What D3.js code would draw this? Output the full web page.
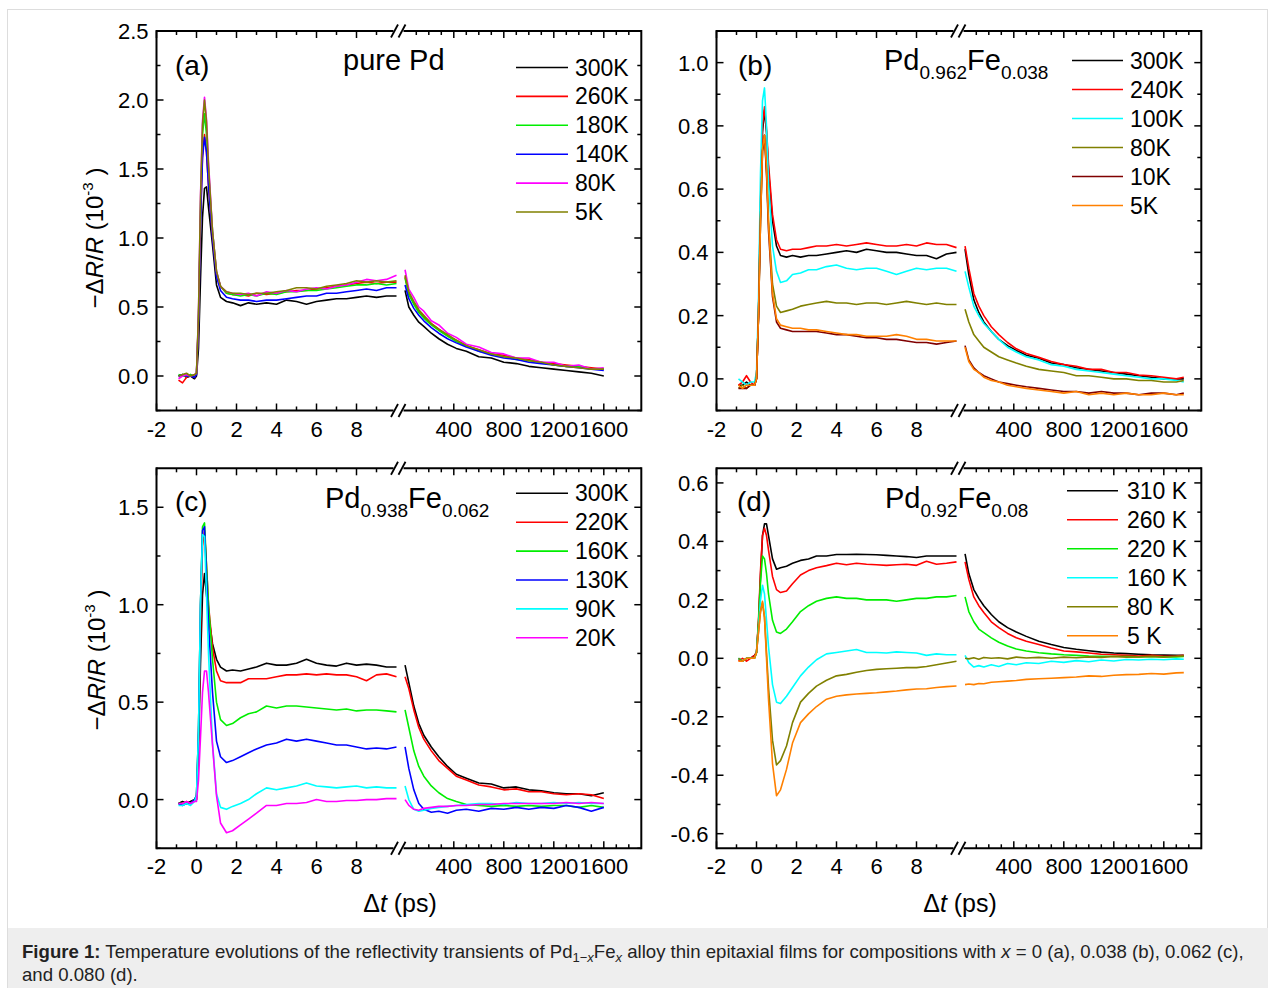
<!DOCTYPE html>
<html><head><meta charset="utf-8">
<script src="https://cdn.jsdelivr.net/npm/d3@7"></script>
<style>
body{margin:0;background:#fff;}
svg{display:block;font-family:"Liberation Sans",Arial,sans-serif;}
</style></head><body>
<svg id="fig" width="1268" height="988"></svg>
<script>
// ---------------- shared time grids (ps) ----------------
const tL = [-0.9,-0.7,-0.5,-0.3,-0.1,0,0.1,0.2,0.3,0.4,0.5,0.6,0.8,1.0,1.2,1.5,1.8,2.2,2.6,3.0,3.5,4.0,4.5,5.0,5.5,6.0,6.5,7.0,7.5,8.0,8.5,9.0,9.5,10];
const tR = [10,40,80,120,160,220,280,350,420,500,600,700,800,900,1000,1100,1200,1300,1400,1500,1600,1700,1760];

// ---------------- tick labels ----------------
const xTickLabelsL = [-2,0,2,4,6,8];
const xTickLabelsR = [400,800,1200,1600];
const yTicksA = [0,0.5,1.0,1.5,2.0,2.5];
const yTicksB = [0,0.2,0.4,0.6,0.8,1.0];
const yTicksC = [0,0.5,1.0,1.5];
const yTicksD = [-0.6,-0.4,-0.2,0,0.2,0.4,0.6];

// ---------------- panel (a) pure Pd ----------------
const aNames  = ["300K","260K","180K","140K","80K","5K"];
const aColors = ["#000000","#ff0000","#00ee00","#0000ff","#ff00ff","#808000"];
const a300L = [0.0,0.01,-0.01,0.0,-0.02,0.0,0.2,0.7,1.15,1.36,1.37,1.22,0.95,0.66,0.57,0.54,0.53,0.51,0.53,0.52,0.53,0.52,0.55,0.54,0.52,0.54,0.55,0.56,0.56,0.57,0.58,0.57,0.58,0.58];
const a260L = [-0.03,-0.05,-0.01,0.01,-0.01,0.02,0.4,1.15,1.6,1.75,1.62,1.38,1.02,0.74,0.65,0.6,0.59,0.59,0.58,0.6,0.59,0.6,0.61,0.62,0.62,0.63,0.64,0.65,0.66,0.67,0.68,0.67,0.68,0.68];
const a180L = [0.01,0.0,0.0,0.01,0.0,0.02,0.42,1.2,1.75,1.9,1.75,1.48,1.05,0.75,0.65,0.6,0.59,0.58,0.59,0.58,0.6,0.59,0.61,0.61,0.62,0.62,0.63,0.64,0.65,0.66,0.66,0.67,0.66,0.67];
const a140L = [0.0,0.01,0.0,0.0,-0.01,0.01,0.38,1.1,1.58,1.73,1.62,1.38,1.0,0.72,0.62,0.57,0.56,0.55,0.55,0.54,0.55,0.55,0.56,0.57,0.58,0.58,0.6,0.6,0.61,0.62,0.63,0.62,0.64,0.64];
const a80L  = [-0.02,0.0,0.01,0.0,0.01,0.02,0.45,1.3,1.85,2.02,1.86,1.55,1.05,0.76,0.65,0.61,0.6,0.59,0.6,0.58,0.61,0.6,0.62,0.61,0.63,0.64,0.63,0.65,0.66,0.68,0.7,0.69,0.7,0.73];
const a5L   = [0.0,0.01,0.02,0.0,0.01,0.02,0.45,1.28,1.82,2.0,1.84,1.52,1.05,0.76,0.65,0.61,0.6,0.6,0.59,0.6,0.6,0.61,0.62,0.64,0.64,0.63,0.65,0.66,0.67,0.69,0.68,0.69,0.68,0.69];
const a300R = [0.62,0.5,0.44,0.39,0.36,0.31,0.27,0.23,0.2,0.18,0.14,0.13,0.1,0.09,0.07,0.06,0.05,0.04,0.03,0.02,0.0];
const a260R = [0.72,0.6,0.53,0.47,0.43,0.38,0.34,0.29,0.26,0.22,0.19,0.16,0.15,0.13,0.12,0.1,0.09,0.08,0.07,0.06,0.05];
const a180R = [0.71,0.59,0.52,0.46,0.42,0.37,0.33,0.29,0.25,0.22,0.18,0.16,0.14,0.12,0.11,0.1,0.08,0.07,0.07,0.05,0.05];
const a140R = [0.66,0.56,0.49,0.44,0.4,0.35,0.31,0.27,0.24,0.21,0.18,0.15,0.13,0.12,0.1,0.09,0.08,0.07,0.06,0.05,0.04];
const a80R  = [0.77,0.63,0.57,0.5,0.47,0.4,0.37,0.31,0.28,0.23,0.21,0.17,0.16,0.13,0.13,0.1,0.1,0.07,0.08,0.05,0.06];
const a5R   = [0.73,0.61,0.54,0.48,0.44,0.38,0.34,0.3,0.26,0.22,0.19,0.16,0.14,0.13,0.11,0.1,0.08,0.07,0.06,0.05,0.05];

// ---------------- panel (b) Pd0.962Fe0.038 ----------------
const bNames  = ["300K","240K","100K","80K","10K","5K"];
const bColors = ["#000000","#ff0000","#00ffff","#808000","#800000","#ff8000"];
const b300L = [-0.02,-0.02,-0.01,-0.02,-0.02,0.0,0.2,0.55,0.78,0.85,0.78,0.66,0.5,0.42,0.39,0.385,0.39,0.385,0.39,0.39,0.395,0.4,0.405,0.4,0.41,0.405,0.4,0.4,0.395,0.39,0.39,0.38,0.395,0.4];
const b240L = [-0.02,-0.01,0.01,-0.01,-0.02,0.0,0.2,0.56,0.8,0.86,0.79,0.68,0.52,0.44,0.41,0.405,0.41,0.41,0.415,0.42,0.42,0.425,0.42,0.425,0.43,0.425,0.42,0.42,0.425,0.42,0.43,0.425,0.425,0.415];
const b100L = [0.0,-0.01,-0.02,-0.01,-0.01,0.02,0.25,0.65,0.88,0.92,0.8,0.62,0.42,0.34,0.305,0.31,0.33,0.335,0.345,0.345,0.355,0.36,0.35,0.345,0.35,0.35,0.34,0.33,0.34,0.35,0.345,0.35,0.35,0.34];
const b80L  = [-0.03,-0.02,-0.03,-0.02,-0.02,0.0,0.2,0.5,0.72,0.77,0.66,0.5,0.3,0.23,0.21,0.215,0.22,0.23,0.235,0.24,0.245,0.24,0.24,0.235,0.24,0.24,0.235,0.24,0.245,0.24,0.235,0.24,0.235,0.235];
const b10L  = [-0.03,-0.03,-0.03,-0.02,-0.02,0.0,0.2,0.5,0.72,0.77,0.65,0.47,0.26,0.18,0.16,0.155,0.15,0.15,0.15,0.15,0.145,0.14,0.14,0.135,0.13,0.13,0.125,0.125,0.12,0.115,0.115,0.11,0.115,0.12];
const b5L   = [-0.02,-0.03,-0.02,-0.02,-0.02,0.0,0.2,0.5,0.73,0.77,0.67,0.49,0.27,0.19,0.17,0.165,0.16,0.16,0.155,0.155,0.15,0.145,0.14,0.14,0.135,0.135,0.135,0.14,0.135,0.125,0.125,0.12,0.12,0.12];
const b300R = [0.41,0.33,0.25,0.21,0.18,0.15,0.125,0.105,0.09,0.075,0.065,0.05,0.045,0.035,0.03,0.025,0.02,0.015,0.01,0.005,0.0,0.0,0.0];
const b240R = [0.42,0.35,0.27,0.23,0.2,0.165,0.14,0.115,0.095,0.08,0.068,0.055,0.045,0.04,0.03,0.03,0.02,0.02,0.012,0.01,0.005,0.0,0.005];
const b100R = [0.34,0.29,0.23,0.2,0.175,0.15,0.125,0.1,0.085,0.07,0.06,0.045,0.04,0.03,0.025,0.02,0.015,0.01,0.005,0.0,0.0,-0.005,-0.01];
const b80R  = [0.22,0.18,0.14,0.12,0.1,0.085,0.07,0.06,0.05,0.04,0.03,0.025,0.02,0.01,0.01,0.005,0.0,0.0,-0.005,-0.005,-0.01,-0.01,-0.005];
const b10R  = [0.105,0.06,0.035,0.02,0.01,0.0,-0.01,-0.015,-0.02,-0.025,-0.03,-0.035,-0.04,-0.04,-0.045,-0.04,-0.045,-0.045,-0.05,-0.045,-0.045,-0.05,-0.045];
const b5R   = [0.1,0.055,0.03,0.02,0.005,-0.005,-0.01,-0.02,-0.025,-0.03,-0.035,-0.04,-0.045,-0.04,-0.05,-0.045,-0.05,-0.045,-0.05,-0.05,-0.045,-0.05,-0.05];

// ---------------- panel (c) Pd0.938Fe0.062 ----------------
const cNames  = ["300K","220K","160K","130K","90K","20K"];
const cColors = ["#000000","#ff0000","#00ee00","#0000ff","#00ffff","#ff00ff"];
const c300L = [-0.02,-0.01,-0.02,-0.01,0.0,0.0,0.25,0.7,1.05,1.16,1.05,0.95,0.8,0.72,0.68,0.66,0.665,0.66,0.67,0.68,0.7,0.69,0.69,0.7,0.72,0.7,0.69,0.685,0.7,0.69,0.695,0.69,0.68,0.68];
const c220L = [-0.02,-0.02,-0.01,-0.02,0.0,0.0,0.3,0.85,1.3,1.38,1.2,1.0,0.78,0.66,0.61,0.6,0.6,0.6,0.62,0.62,0.62,0.63,0.64,0.64,0.645,0.64,0.645,0.64,0.64,0.63,0.61,0.64,0.645,0.63];
const c160L = [-0.02,-0.02,-0.02,-0.02,0.0,0.02,0.35,1.0,1.4,1.42,1.2,1.0,0.72,0.5,0.41,0.38,0.39,0.42,0.44,0.45,0.48,0.47,0.48,0.48,0.475,0.47,0.465,0.46,0.465,0.455,0.46,0.46,0.455,0.45];
const c130L = [-0.02,-0.03,-0.02,-0.02,0.0,0.02,0.35,1.0,1.38,1.4,1.15,0.9,0.55,0.3,0.22,0.19,0.2,0.22,0.24,0.26,0.28,0.29,0.31,0.3,0.31,0.3,0.29,0.28,0.28,0.27,0.26,0.265,0.26,0.27];
const c90L  = [-0.03,-0.03,-0.02,-0.03,-0.01,0.02,0.35,1.0,1.36,1.35,1.05,0.75,0.29,0.03,-0.04,-0.05,-0.035,-0.02,0.0,0.03,0.06,0.05,0.06,0.07,0.085,0.07,0.065,0.06,0.065,0.07,0.06,0.065,0.06,0.06];
const c20L  = [-0.02,-0.02,-0.01,-0.02,-0.01,-0.01,0.1,0.32,0.55,0.66,0.66,0.55,0.28,0.02,-0.12,-0.17,-0.16,-0.13,-0.1,-0.07,-0.03,-0.03,-0.02,-0.02,-0.015,0.0,-0.01,-0.01,-0.005,-0.005,0.0,0.0,0.005,0.005];
const c300R = [0.69,0.6,0.48,0.39,0.33,0.27,0.22,0.17,0.13,0.11,0.085,0.08,0.06,0.065,0.05,0.045,0.035,0.03,0.03,0.02,0.035];
const c220R = [0.63,0.57,0.46,0.37,0.31,0.25,0.2,0.16,0.12,0.1,0.075,0.065,0.05,0.055,0.04,0.04,0.03,0.025,0.03,0.025,0.005];
const c160R = [0.46,0.37,0.25,0.17,0.12,0.07,0.035,0.005,-0.01,-0.025,-0.03,-0.035,-0.03,-0.035,-0.03,-0.035,-0.03,-0.03,-0.04,-0.03,-0.04];
const c130R = [0.27,0.16,0.05,-0.02,-0.05,-0.065,-0.06,-0.07,-0.055,-0.05,-0.06,-0.045,-0.05,-0.04,-0.05,-0.04,-0.045,-0.03,-0.04,-0.06,-0.04];
const c90R  = [0.07,0.0,-0.05,-0.06,-0.055,-0.045,-0.04,-0.035,-0.03,-0.025,-0.02,-0.02,-0.025,-0.015,-0.02,-0.02,-0.015,-0.02,-0.015,-0.02,-0.02];
const c20R  = [0.0,-0.03,-0.05,-0.055,-0.045,-0.04,-0.035,-0.035,-0.03,-0.03,-0.025,-0.025,-0.02,-0.02,-0.02,-0.02,-0.02,-0.015,-0.02,-0.015,-0.02];

// ---------------- panel (d) Pd0.92Fe0.08 ----------------
const dNames  = ["310 K","260 K","220 K","160 K","80 K","5 K"];
const dColors = ["#000000","#ff0000","#00ee00","#00ffff","#808000","#ff8000"];
const d310L = [0.0,-0.01,0.0,0.0,0.01,0.02,0.12,0.28,0.42,0.46,0.46,0.42,0.34,0.305,0.31,0.315,0.325,0.335,0.34,0.35,0.35,0.355,0.355,0.356,0.355,0.354,0.352,0.35,0.348,0.345,0.35,0.35,0.35,0.35];
const d260L = [-0.01,0.0,-0.01,0.0,0.01,0.02,0.13,0.3,0.42,0.445,0.42,0.37,0.28,0.235,0.225,0.23,0.255,0.285,0.3,0.31,0.317,0.325,0.32,0.325,0.322,0.32,0.318,0.32,0.322,0.318,0.332,0.322,0.325,0.33];
const d220L = [0.0,-0.01,0.0,0.0,0.0,0.02,0.12,0.26,0.35,0.34,0.29,0.22,0.13,0.09,0.085,0.1,0.125,0.16,0.18,0.195,0.205,0.21,0.205,0.205,0.2,0.2,0.2,0.195,0.2,0.205,0.205,0.21,0.21,0.215];
const d160L = [0.0,-0.01,0.0,0.0,0.0,0.02,0.1,0.2,0.25,0.22,0.13,0.04,-0.09,-0.15,-0.155,-0.13,-0.1,-0.06,-0.03,-0.005,0.015,0.02,0.025,0.03,0.02,0.02,0.018,0.022,0.02,0.018,0.01,0.015,0.012,0.012];
const d80L  = [0.0,-0.01,0.0,0.0,0.0,0.02,0.09,0.16,0.19,0.14,0.02,-0.1,-0.28,-0.365,-0.35,-0.3,-0.22,-0.15,-0.12,-0.095,-0.075,-0.06,-0.055,-0.048,-0.042,-0.038,-0.036,-0.034,-0.032,-0.032,-0.028,-0.022,-0.016,-0.01];
const d5L   = [-0.01,-0.01,0.0,0.0,0.0,0.02,0.09,0.16,0.195,0.14,0.0,-0.14,-0.36,-0.47,-0.45,-0.38,-0.29,-0.22,-0.19,-0.165,-0.14,-0.13,-0.125,-0.122,-0.12,-0.118,-0.115,-0.112,-0.108,-0.105,-0.104,-0.1,-0.097,-0.095];
const d310R = [0.357,0.29,0.235,0.205,0.18,0.15,0.125,0.105,0.09,0.075,0.058,0.047,0.037,0.031,0.026,0.021,0.018,0.016,0.014,0.012,0.011,0.01,0.01];
const d260R = [0.33,0.27,0.21,0.18,0.157,0.125,0.105,0.085,0.07,0.058,0.047,0.035,0.025,0.022,0.018,0.014,0.012,0.01,0.008,0.01,0.007,0.008,0.01];
const d220R = [0.21,0.16,0.125,0.1,0.088,0.07,0.055,0.042,0.032,0.025,0.019,0.015,0.012,0.01,0.008,0.007,0.006,0.006,0.005,0.006,0.005,0.005,0.006];
const d160R = [0.01,-0.015,-0.03,-0.025,-0.03,-0.022,-0.028,-0.018,-0.022,-0.015,-0.018,-0.01,-0.014,-0.008,-0.012,-0.006,-0.009,-0.004,-0.006,-0.003,-0.005,-0.002,-0.003];
const d80R  = [0.0,-0.002,0.002,-0.003,0.003,0.0,0.002,-0.002,0.004,0.001,0.003,0.0,0.004,0.002,0.005,0.003,0.006,0.004,0.005,0.006,0.004,0.007,0.008];
const d5R   = [-0.09,-0.088,-0.09,-0.086,-0.087,-0.082,-0.08,-0.078,-0.076,-0.072,-0.07,-0.068,-0.066,-0.064,-0.06,-0.062,-0.058,-0.056,-0.055,-0.052,-0.054,-0.05,-0.049];

// ---------------- drawing ----------------
const svg = d3.select("#fig");
const FONT = "'Liberation Sans', Arial, sans-serif";

// outer frame and caption band
svg.append("rect").attr("x",7.5).attr("y",9.5).attr("width",1260).attr("height",978)
  .attr("fill","none").attr("stroke","#dddddd");
svg.append("rect").attr("x",8).attr("y",928).attr("width",1260).attr("height",60).attr("fill","#eeeeee");

function drawPanel(p){
  const g = svg.append("g");
  const xL = d3.scaleLinear([-2,10],[p.L, p.L+240]);
  const xR = d3.scaleLinear([0,1900],[p.L+247.3, p.L+484.8]);
  const y  = d3.scaleLinear(p.yDom,[p.B, p.T]);
  const R = xR(1900), brk = xL(10);
  const ln = (x1,y1,x2,y2,w=2)=>g.append("line").attr("x1",x1).attr("y1",y1).attr("x2",x2).attr("y2",y2)
      .attr("stroke","#000").attr("stroke-width",w);

  // data lines
  const lineL = d3.line().x(d=>xL(d[0])).y(d=>y(d[1]));
  const lineR = d3.line().x(d=>xR(d[0])).y(d=>y(d[1]));
  p.series.forEach((s,i)=>{
    g.append("path").attr("d",lineL(d3.zip(tL,s.left))).attr("fill","none")
      .attr("stroke",p.colors[i]).attr("stroke-width",1.6).attr("stroke-linejoin","round");
    g.append("path").attr("d",lineR(d3.zip(tR,s.right))).attr("fill","none")
      .attr("stroke",p.colors[i]).attr("stroke-width",1.6).attr("stroke-linejoin","round");
  });

  // frame
  ln(p.L,p.T-1,p.L,p.B+1); ln(R,p.T-1,R,p.B+1);
  [p.T,p.B].forEach(yy=>{
    ln(p.L,yy,brk-3,yy); ln(brk+7,yy,R,yy);
    [brk-2, brk+5.5].forEach(cx=>ln(cx-3.5,yy+6.5,cx+3.5,yy-6.5,1.8));
  });

  // x ticks (inward, top & bottom)
  const majL = xTickLabelsL, minL = d3.range(-1,10,1).filter(v=>!majL.includes(v));
  const majR = xTickLabelsR, minR = d3.range(100,1900,100).filter(v=>!majR.includes(v));
  const xt = (x,len)=>{ ln(x,p.B,x,p.B-len,1.5); ln(x,p.T,x,p.T+len,1.5); };
  majL.forEach(v=>xt(xL(v),7)); minL.forEach(v=>xt(xL(v),4));
  majR.forEach(v=>xt(xR(v),7)); minR.forEach(v=>xt(xR(v),4));
  // y ticks (inward, left & right)
  const yt = (v,len)=>{ const yy=y(v); ln(p.L,yy,p.L+len,yy,1.5); ln(R,yy,R-len,yy,1.5); };
  p.yMajor.forEach(v=>yt(v,7));
  p.yMinor.forEach(v=>yt(v,4));

  // tick labels
  const tl = (x,yy,txt,anchor)=>g.append("text").attr("x",x).attr("y",yy).attr("text-anchor",anchor)
      .attr("font-family",FONT).attr("font-size",22).attr("fill","#000").text(txt);
  majL.forEach(v=>tl(xL(v),p.B+26,String(v),"middle"));
  majR.forEach(v=>tl(xR(v),p.B+26,String(v),"middle"));
  p.yMajor.forEach(v=>tl(p.L-8,y(v)+8,v.toFixed(1),"end"));

  // legend
  p.names.forEach((n,i)=>{
    const yy = p.lg.y0 + i*p.lg.dy;
    g.append("line").attr("x1",p.lg.x1).attr("x2",p.lg.x2).attr("y1",yy).attr("y2",yy)
      .attr("stroke",p.colors[i]).attr("stroke-width",1.6);
    g.append("text").attr("x",p.lg.tx).attr("y",yy+8).attr("font-family",FONT).attr("font-size",23).text(n);
  });

  // tag
  g.append("text").attr("x",p.tag.x).attr("y",p.tag.y).attr("font-family",FONT).attr("font-size",28).text(p.tag.t);
  // title
  const tt = g.append("text").attr("x",p.title.x).attr("y",p.title.y).attr("font-family",FONT).attr("font-size",29);
  p.title.parts.forEach(pt=>{
    const s = tt.append("tspan").text(pt[0]);
    if(pt[1]==="sub") s.attr("font-size",19).attr("dy",9);
    else if(pt[1]==="back") s.attr("dy",-9);
  });
  return {xL,xR,y};
}

const seriesOf = (Ls,Rs)=>Ls.map((l,i)=>({left:l,right:Rs[i]}));

drawPanel({L:156.5,T:31,B:410.5,yDom:[-0.25,2.5],yMajor:yTicksA,yMinor:[-0.25,0.25,0.75,1.25,1.75,2.25],
  names:aNames,colors:aColors,series:seriesOf([a300L,a260L,a180L,a140L,a80L,a5L],[a300R,a260R,a180R,a140R,a80R,a5R]),
  lg:{x1:516,x2:568,tx:575,y0:67.5,dy:28.9},tag:{x:175,y:75,t:"(a)"},
  title:{x:343,y:70,parts:[["pure Pd",""]]}});
drawPanel({L:716.5,T:31,B:410.5,yDom:[-0.1,1.1],yMajor:yTicksB,yMinor:[-0.1,0.1,0.3,0.5,0.7,0.9,1.1],
  names:bNames,colors:bColors,series:seriesOf([b300L,b240L,b100L,b80L,b10L,b5L],[b300R,b240R,b100R,b80R,b10R,b5R]),
  lg:{x1:1072,x2:1123,tx:1130,y0:60.5,dy:29},tag:{x:738,y:75,t:"(b)"},
  title:{x:884,y:70,parts:[["Pd",""],["0.962","sub"],["Fe","back"],["0.038","sub"]]}});
drawPanel({L:156.5,T:468.3,B:848.3,yDom:[-0.25,1.7],yMajor:yTicksC,yMinor:[-0.25,0.25,0.75,1.25],
  names:cNames,colors:cColors,series:seriesOf([c300L,c220L,c160L,c130L,c90L,c20L],[c300R,c220R,c160R,c130R,c90R,c20R]),
  lg:{x1:516,x2:568,tx:575,y0:493.3,dy:28.9},tag:{x:175,y:511,t:"(c)"},
  title:{x:325,y:508,parts:[["Pd",""],["0.938","sub"],["Fe","back"],["0.062","sub"]]}});
drawPanel({L:716.5,T:468.3,B:848.3,yDom:[-0.65,0.65],yMajor:yTicksD,yMinor:[-0.5,-0.3,-0.1,0.1,0.3,0.5],
  names:dNames,colors:dColors,series:seriesOf([d310L,d260L,d220L,d160L,d80L,d5L],[d310R,d260R,d220R,d160R,d80R,d5R]),
  lg:{x1:1067,x2:1118,tx:1127,y0:490.7,dy:29},tag:{x:737,y:511,t:"(d)"},
  title:{x:885,y:508,parts:[["Pd",""],["0.92","sub"],["Fe","back"],["0.08","sub"]]}});

// y-axis titles
function yTitle(cx,cy){
  const t = svg.append("text").attr("transform",`translate(${cx},${cy}) rotate(-90)`)
    .attr("text-anchor","middle").attr("font-family",FONT).attr("font-size",24);
  t.append("tspan").text("\u2212\u0394");
  t.append("tspan").attr("font-style","italic").text("R");
  t.append("tspan").text("/");
  t.append("tspan").attr("font-style","italic").text("R");
  t.append("tspan").text(" (10");
  t.append("tspan").attr("font-size",15).attr("dy",-10).text("-3");
  t.append("tspan").attr("dy",10).text(" )");
}
yTitle(103,238);
yTitle(105,660);

// x-axis titles
function xTitle(cx,by){
  const t = svg.append("text").attr("x",cx).attr("y",by).attr("text-anchor","middle")
    .attr("font-family",FONT).attr("font-size",25);
  t.append("tspan").text("\u0394");
  t.append("tspan").attr("font-style","italic").text("t");
  t.append("tspan").text(" (ps)");
}
xTitle(400,912);
xTitle(960,912);

// caption
const CAP = 18.6;
const cap = svg.append("text").attr("x",22).attr("y",958).attr("font-family",FONT).attr("font-size",CAP).attr("fill","#222");
cap.append("tspan").attr("font-weight","bold").text("Figure 1:");
cap.append("tspan").text(" Temperature evolutions of the reflectivity transients of Pd");
cap.append("tspan").attr("font-size",13).attr("dy",4).text("1\u2212");
cap.append("tspan").attr("font-size",13).attr("font-style","italic").text("x");
cap.append("tspan").attr("dy",-4).text("Fe");
cap.append("tspan").attr("font-size",13).attr("dy",4).attr("font-style","italic").text("x");
cap.append("tspan").attr("dy",-4).text(" alloy thin epitaxial films for compositions with ");
cap.append("tspan").attr("font-style","italic").text("x");
cap.append("tspan").text(" = 0 (a), 0.038 (b), 0.062 (c),");
svg.append("text").attr("x",22).attr("y",981).attr("font-family",FONT).attr("font-size",CAP).attr("fill","#222")
  .text("and 0.080 (d).");
</script>
</body></html>
